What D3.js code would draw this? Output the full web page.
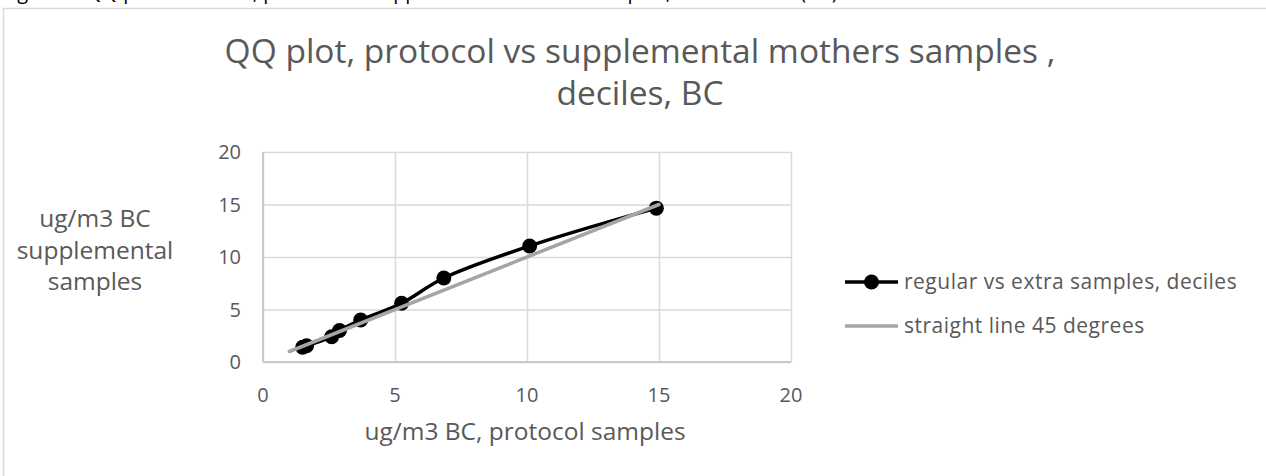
<!DOCTYPE html>
<html>
<head>
<meta charset="utf-8">
<script src="https://cdn.jsdelivr.net/npm/d3@7"></script>
<style>
  html, body { margin: 0; padding: 0; background: #fff; }
  svg { display: block; }
  text { font-family: "Open Sans", "Noto Sans", sans-serif; }
</style>
</head>
<body>
<svg id="chart" width="1266" height="476"></svg>
<script>
// ---- data ----
const captionText = "Figure 4: QQ plot of deciles, protocol vs supplemental mothers samples, black carbon (BC)";
const titleLines = ["QQ plot, protocol vs supplemental mothers samples ,", "deciles, BC"];
const xTitle = "ug/m3 BC, protocol samples";
const yTitleLines = ["ug/m3 BC", "supplemental", "samples"];
const xTicks = [0, 5, 10, 15, 20];
const yTicks = [0, 5, 10, 15, 20];
const seriesNames = ["regular vs extra samples, deciles", "straight line 45 degrees"];
const protocolDeciles = [1.5, 1.65, 2.6, 2.9, 3.7, 5.25, 6.85, 10.1, 14.9];
const supplementalDeciles = [1.4, 1.55, 2.4, 3.0, 4.0, 5.6, 8.0, 11.05, 14.65];
const lineX = [1, 15];
const lineY = [1, 15];

// ---- layout ----
const svg = d3.select("#chart");
const W = 1266, H = 476;
const plot = { left: 263, right: 791, top: 152, bottom: 362 };
const textColor = "#595959";
const gridColor = "#d9d9d9";

const x = d3.scaleLinear().domain([0, 20]).range([plot.left, plot.right]);
const y = d3.scaleLinear().domain([0, 20]).range([plot.bottom, plot.top]);

// caption cut off at top
svg.append("text")
  .attr("x", 2).attr("y", -1)
  .attr("font-size", 20).attr("fill", "#000")
  .text(captionText);

// chart border
svg.append("rect")
  .attr("x", 3.5).attr("y", 8.5)
  .attr("width", W + 10).attr("height", H + 10)
  .attr("fill", "none").attr("stroke", gridColor).attr("stroke-width", 1.5);

// title
svg.append("text")
  .attr("text-anchor", "middle")
  .attr("font-size", 33.5).attr("fill", textColor)
  .selectAll("tspan").data(titleLines).join("tspan")
  .attr("x", 640).attr("y", (d, i) => 63 + i * 42)
  .text(d => d);

// gridlines via axes
const gx = svg.append("g")
  .attr("transform", `translate(0,${plot.bottom})`)
  .call(d3.axisBottom(x).tickValues(xTicks).tickSize(-(plot.bottom - plot.top)).tickFormat(""));
gx.select(".domain").remove();
gx.selectAll("line").attr("stroke", gridColor).attr("stroke-width", 1.5);

const gy = svg.append("g")
  .attr("transform", `translate(${plot.left},0)`)
  .call(d3.axisLeft(y).tickValues(yTicks).tickSize(-(plot.right - plot.left)).tickFormat(""));
gy.select(".domain").remove();
gy.selectAll("line").attr("stroke", gridColor).attr("stroke-width", 1.5);

// axis frame (bottom and left)
svg.append("line").attr("x1", plot.left).attr("x2", plot.right)
  .attr("y1", plot.bottom).attr("y2", plot.bottom)
  .attr("stroke", "#bfbfbf").attr("stroke-width", 1.5);
svg.append("line").attr("x1", plot.left).attr("x2", plot.left)
  .attr("y1", plot.top).attr("y2", plot.bottom)
  .attr("stroke", "#bfbfbf").attr("stroke-width", 1.5);

// tick labels
svg.append("g").selectAll("text").data(xTicks).join("text")
  .attr("x", d => x(d)).attr("y", plot.bottom + 40)
  .attr("text-anchor", "middle").attr("font-size", 20).attr("fill", textColor)
  .text(d => d);
svg.append("g").selectAll("text").data(yTicks).join("text")
  .attr("x", plot.left - 22).attr("y", d => y(d) + 7)
  .attr("text-anchor", "end").attr("font-size", 20).attr("fill", textColor)
  .text(d => d);

// axis titles
svg.append("text")
  .attr("x", 525).attr("y", 440)
  .attr("text-anchor", "middle").attr("font-size", 24.5).attr("fill", textColor)
  .text(xTitle);
svg.append("text")
  .attr("text-anchor", "middle").attr("font-size", 24.5).attr("fill", textColor)
  .selectAll("tspan").data(yTitleLines).join("tspan")
  .attr("x", 95).attr("y", (d, i) => 227 + i * 31.5)
  .text(d => d);

// straight line
const straight = lineX.map((v, i) => [v, lineY[i]]);
const straightLine = d3.line().x(d => x(d[0])).y(d => y(d[1]));

// QQ series
const pts = protocolDeciles.map((v, i) => [v, supplementalDeciles[i]]);
svg.append("path")
  .datum(pts)
  .attr("d", d3.line().x(d => x(d[0])).y(d => y(d[1])).curve(d3.curveCatmullRom.alpha(0.5)))
  .attr("fill", "none").attr("stroke", "#000").attr("stroke-width", 3.5)
  .attr("stroke-linejoin", "round");
svg.append("g").selectAll("circle").data(pts).join("circle")
  .attr("cx", d => x(d[0])).attr("cy", d => y(d[1])).attr("r", 7.5)
  .attr("fill", "#000");

// straight line drawn on top (reference shows gray over black at low end)
svg.append("path")
  .datum(straight)
  .attr("d", straightLine)
  .attr("fill", "none").attr("stroke", "#a5a5a5").attr("stroke-width", 3.5)
  .attr("stroke-linecap", "round");

// legend
const lg = svg.append("g");
const legY = [282, 326];
lg.append("line").attr("x1", 845).attr("x2", 898).attr("y1", legY[0]).attr("y2", legY[0])
  .attr("stroke", "#000").attr("stroke-width", 3.5);
lg.append("circle").attr("cx", 871.5).attr("cy", legY[0]).attr("r", 7.5).attr("fill", "#000");
lg.append("line").attr("x1", 845).attr("x2", 898).attr("y1", legY[1]).attr("y2", legY[1])
  .attr("stroke", "#a5a5a5").attr("stroke-width", 3.5);
lg.selectAll("text").data(seriesNames).join("text")
  .attr("x", 904).attr("y", (d, i) => legY[i] + 7)
  .attr("font-size", 21).attr("letter-spacing", 0.5).attr("fill", textColor)
  .text(d => d);
</script>
</body>
</html>
